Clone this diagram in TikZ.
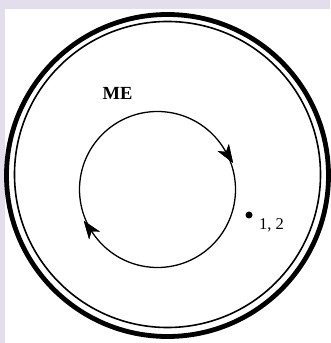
\documentclass[tikz,border=0pt]{standalone}
\usepackage{fontspec}
\setmainfont{Liberation Serif}
\usetikzlibrary{arrows.meta,decorations.markings}
\definecolor{lavender}{HTML}{E3DEEC}
\tikzset{
  flowtip/.style={postaction=decorate, decoration={markings,
      mark=at position #1 with {\arrow{Stealth[length=18pt,width=13pt,inset=5pt,reversed]}}}},
  labeltext/.style={draw=none, inner sep=0pt},
}
\begin{document}
\begin{tikzpicture}[x=1pt,y=1pt]
    \useasboundingbox (0,0) rectangle (330,343);
    \fill[lavender] (0,0) rectangle (330,343);
    \fill[white] (5,0) rectangle (330,334);

    % rim
    \coordinate (rim) at (167.5,167.5);
    \coordinate (wall) at (167.5,168.5);
    \draw[line width=4.8pt] (rim) circle (161);
    \draw[line width=1.6pt] (wall) circle (153);

    % flow
    \coordinate (core) at (157.5,153.5);
    \draw[line width=1.3pt, flowtip=0.09, flowtip=0.6] (core) circle (78);

    \node[labeltext, font=\fontsize{18.5}{22}\selectfont\bfseries] (me) at (117.5,250) {ME};
    \node[circle, fill, inner sep=0pt, minimum size=7pt] (pt) at (249,128) {};
    \node[labeltext, anchor=west, font=\fontsize{16.5}{19}\selectfont] (pts) at (259,118) {1, 2};
\end{tikzpicture}
\end{document}
